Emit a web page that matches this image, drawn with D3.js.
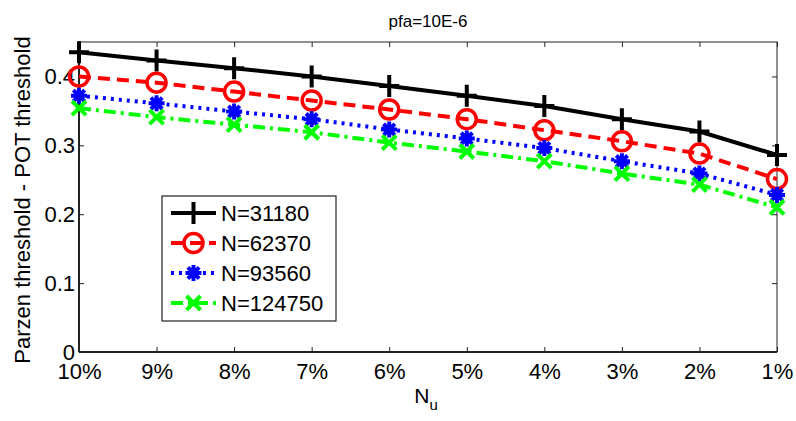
<!DOCTYPE html>
<html>
<head>
<meta charset="utf-8">
<script src="https://cdn.jsdelivr.net/npm/d3@7"></script>
<style>
  body { margin: 0; background: #fff; }
  text { font-family: "Liberation Sans", Arial, sans-serif; fill: #000; }
</style>
</head>
<body>
<svg id="chart" width="796" height="421"></svg>
<script>
// data
var categories = ["10%", "9%", "8%", "7%", "6%", "5%", "4%", "3%", "2%", "1%"];
var n31180 = [0.435, 0.423, 0.412, 0.400, 0.386, 0.372, 0.357, 0.338, 0.320, 0.286];
var n62370 = [0.400, 0.391, 0.378, 0.365, 0.352, 0.338, 0.322, 0.306, 0.288, 0.251];
var n93560 = [0.372, 0.361, 0.349, 0.338, 0.323, 0.310, 0.296, 0.277, 0.259, 0.228];
var n124750 = [0.354, 0.341, 0.330, 0.319, 0.304, 0.291, 0.277, 0.259, 0.243, 0.210];
var seriesNames = ["N=31180", "N=62370", "N=93560", "N=124750"];
var yTicks = [0, 0.1, 0.2, 0.3, 0.4];

var series = [
  { name: seriesNames[0], values: n31180, color: "#000000", dash: null, marker: "plus" },
  { name: seriesNames[1], values: n62370, color: "#ff0000", dash: "12,7", marker: "circle" },
  { name: seriesNames[2], values: n93560, color: "#0000ff", dash: "3,5", marker: "star" },
  { name: seriesNames[3], values: n124750, color: "#00ff00", dash: "12,5,3,5", marker: "cross" }
];

var pLeft = 79, pRight = 777, pTop = 42, pBottom = 352;
var svg = d3.select("#chart");

var x = d3.scalePoint().domain(categories).range([pLeft, pRight]);
var y = d3.scaleLinear().domain([0, 0.45]).range([pBottom, pTop]);

// axes box
var frame = svg.append("g");
frame.append("rect")
  .attr("x", pLeft).attr("y", pTop)
  .attr("width", pRight - pLeft).attr("height", pBottom - pTop)
  .attr("fill", "none").attr("stroke", "#222").attr("stroke-width", 1);
frame.append("line").attr("x1", pLeft).attr("x2", pRight).attr("y1", pBottom).attr("y2", pBottom)
  .attr("stroke", "#222").attr("stroke-width", 2);
frame.append("line").attr("x1", pLeft).attr("x2", pLeft).attr("y1", pTop).attr("y2", pBottom)
  .attr("stroke", "#222").attr("stroke-width", 2);

// x axis with inward ticks
var xAxis = svg.append("g").attr("transform", "translate(0," + pBottom + ")")
  .call(d3.axisBottom(x).tickSizeInner(-5).tickSizeOuter(0));
xAxis.select(".domain").remove();
xAxis.selectAll("text").attr("font-size", 22).attr("y", 27).attr("dy", 0);

var xTop = svg.append("g").attr("transform", "translate(0," + pTop + ")")
  .call(d3.axisTop(x).tickSize(-5).tickFormat(""));
xTop.select(".domain").remove();

var yAxis = svg.append("g").attr("transform", "translate(" + pLeft + ",0)")
  .call(d3.axisLeft(y).tickValues(yTicks).tickSizeInner(-5).tickSizeOuter(0).tickPadding(4)
    .tickFormat(function(d) { return d === 0 ? "0" : d3.format(".1f")(d); }));
yAxis.select(".domain").remove();
yAxis.selectAll("text").attr("font-size", 22).attr("dy", "0.33em");

var yRight = svg.append("g").attr("transform", "translate(" + pRight + ",0)")
  .call(d3.axisRight(y).tickValues(yTicks).tickSize(-5).tickFormat(""));
yRight.select(".domain").remove();

svg.selectAll(".tick line").attr("stroke", "#222");

// markers
function drawMarker(g, type, cx, cy, color) {
  if (type === "plus") {
    g.append("path").attr("d", "M" + (cx - 10) + "," + cy + "H" + (cx + 10) + "M" + cx + "," + (cy - 11) + "V" + (cy + 11))
      .attr("stroke", color).attr("stroke-width", 4).attr("fill", "none");
  } else if (type === "circle") {
    g.append("circle").attr("cx", cx).attr("cy", cy).attr("r", 9.5)
      .attr("stroke", color).attr("stroke-width", 3.5).attr("fill", "none");
  } else if (type === "star") {
    var p = "";
    for (var i = 0; i < 4; i++) {
      var a = i * Math.PI / 4;
      var dx = Math.cos(a) * 8, dy = Math.sin(a) * 8;
      p += "M" + (cx - dx) + "," + (cy - dy) + "L" + (cx + dx) + "," + (cy + dy);
    }
    g.append("path").attr("d", p).attr("stroke", color).attr("stroke-width", 4).attr("fill", "none");
    g.append("circle").attr("cx", cx).attr("cy", cy).attr("r", 5).attr("fill", color);
  } else if (type === "cross") {
    g.append("path").attr("d", "M" + (cx - 7) + "," + (cy - 7) + "L" + (cx + 7) + "," + (cy + 7) +
        "M" + (cx - 7) + "," + (cy + 7) + "L" + (cx + 7) + "," + (cy - 7))
      .attr("stroke", color).attr("stroke-width", 4).attr("fill", "none");
  }
}

var line = d3.line()
  .x(function(d, i) { return x(categories[i]); })
  .y(function(d) { return y(d); });

series.forEach(function(s) {
  var g = svg.append("g");
  g.append("path").datum(s.values)
    .attr("d", line)
    .attr("fill", "none")
    .attr("stroke", s.color)
    .attr("stroke-width", 4)
    .attr("stroke-dasharray", s.dash);
  s.values.forEach(function(v, i) {
    drawMarker(g, s.marker, x(categories[i]), y(v), s.color);
  });
});

// legend
var lg = svg.append("g");
lg.append("rect").attr("x", 162).attr("y", 196).attr("width", 174).attr("height", 125)
  .attr("fill", "#fff").attr("stroke", "#222").attr("stroke-width", 1.2);
series.forEach(function(s, i) {
  var ly = 213 + i * 30;
  lg.append("line").attr("x1", 171).attr("x2", 216).attr("y1", ly).attr("y2", ly)
    .attr("stroke", s.color).attr("stroke-width", 4).attr("stroke-dasharray", s.dash);
  drawMarker(lg, s.marker, 193.5, ly, s.color);
  lg.append("text").attr("x", 221).attr("y", ly).attr("dy", "0.36em")
    .attr("font-size", 22).text(s.name);
});

// titles
svg.append("text").attr("x", 428).attr("y", 27).attr("text-anchor", "middle")
  .attr("font-size", 17).text("pfa=10E-6");

var xl = svg.append("text").attr("x", 426).attr("y", 403).attr("text-anchor", "middle").attr("font-size", 21);
xl.append("tspan").text("N");
xl.append("tspan").attr("font-size", 15).attr("dy", 7).text("u");

svg.append("text")
  .attr("transform", "translate(22,200) rotate(-90)")
  .attr("text-anchor", "middle").attr("dy", "0.36em")
  .attr("font-size", 22).text("Parzen threshold - POT threshold");
</script>
</body>
</html>
